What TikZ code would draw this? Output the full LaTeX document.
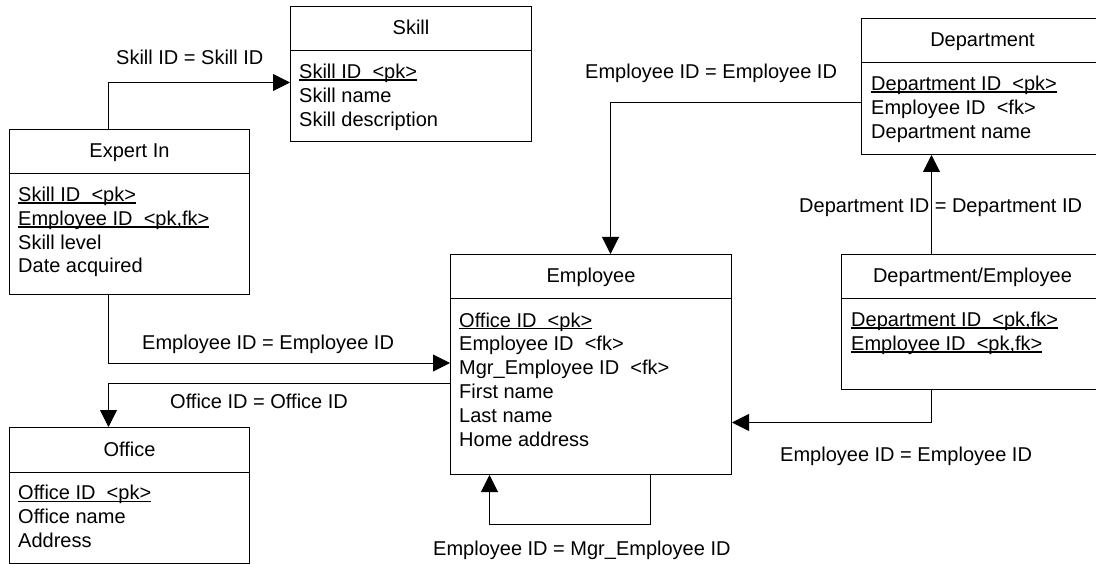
\documentclass[tikz,border=0pt]{standalone}
\usepackage{fontspec}
\setmainfont{Liberation Sans}
\usetikzlibrary{arrows.meta}
% underlined key field: rule just below the baseline, across the whole text
\newcommand\keyfield[1]{\setbox0\hbox{#1}\rlap{\vrule height -1pt depth 2.4pt width \wd0}\box0}
\begin{document}
\begin{tikzpicture}[x=1pt,y=-1pt,
  every node/.style={font=\fontsize{20}{24}\selectfont, inner sep=0pt},
  entity/.style={draw, line width=1pt, anchor=north west},
  heading/.style={anchor=base},
  attr/.style={anchor=base west},
  rel/.style={anchor=base west},
  link/.style={draw, line width=1pt, -{Triangle[length=17pt,width=17pt]}},
  divider/.style={line width=1pt}]
\clip (0,0) rectangle (1096,564);

% ---------- entities ----------
% Skill
\node[entity, minimum width=241pt, minimum height=135pt] (skill) at (290,6) {};
\draw[divider] ([yshift=-45pt]skill.north west) -- ([yshift=-45pt]skill.north east);
\node[heading] (skill-t) at ([yshift=-29pt]skill.north) {Skill};
\node[attr] (skill-1) at ([xshift=9pt,yshift=-72.5pt]skill.north west) {\keyfield{Skill ID\ \ <pk>}};
\node[attr] (skill-2) at ([yshift=-23.8pt]skill-1.base west) {Skill name};
\node[attr] (skill-3) at ([yshift=-23.8pt]skill-2.base west) {Skill description};

% Expert In
\node[entity, minimum width=240pt, minimum height=165pt] (expert) at (9,129) {};
\draw[divider] ([yshift=-45pt]expert.north west) -- ([yshift=-45pt]expert.north east);
\node[heading] (expert-t) at ([yshift=-29pt]expert.north) {Expert In};
\node[attr] (expert-1) at ([xshift=9pt,yshift=-72.5pt]expert.north west) {\keyfield{Skill ID\ \ <pk>}};
\node[attr] (expert-2) at ([yshift=-23.8pt]expert-1.base west) {\keyfield{Employee ID\ \ <pk,fk>}};
\node[attr] (expert-3) at ([yshift=-23.8pt]expert-2.base west) {Skill level};
\node[attr] (expert-4) at ([yshift=-23.8pt]expert-3.base west) {Date acquired};

% Employee
\node[entity, minimum width=281pt, minimum height=220pt] (emp) at (450,254) {};
\draw[divider] ([yshift=-45pt]emp.north west) -- ([yshift=-45pt]emp.north east);
\node[heading] (emp-t) at ([yshift=-29pt]emp.north) {Employee};
\node[attr] (emp-1) at ([xshift=9pt,yshift=-73pt]emp.north west) {\keyfield{Office ID\ \ <pk>}};
\node[attr] (emp-2) at ([yshift=-23.9pt]emp-1.base west) {Employee ID\ \ <fk>};
\node[attr] (emp-3) at ([yshift=-23.9pt]emp-2.base west) {Mgr\_Employee ID\ \ <fk>};
\node[attr] (emp-4) at ([yshift=-23.9pt]emp-3.base west) {First name};
\node[attr] (emp-5) at ([yshift=-23.9pt]emp-4.base west) {Last name};
\node[attr] (emp-6) at ([yshift=-23.9pt]emp-5.base west) {Home address};

% Department
\node[entity, minimum width=242pt, minimum height=136pt] (dept) at (861,18) {};
\draw[divider] ([yshift=-45pt]dept.north west) -- ([yshift=-45pt]dept.north east);
\node[heading] (dept-t) at ([yshift=-29pt]dept.north) {Department};
\node[attr] (dept-1) at ([xshift=10pt,yshift=-72.5pt]dept.north west) {\keyfield{Department ID\ \ <pk>}};
\node[attr] (dept-2) at ([yshift=-23.8pt]dept-1.base west) {Employee ID\ \ <fk>};
\node[attr] (dept-3) at ([yshift=-23.8pt]dept-2.base west) {Department name};

% Department/Employee
\node[entity, minimum width=262pt, minimum height=135pt] (de) at (841,254) {};
\draw[divider] ([yshift=-45pt]de.north west) -- ([yshift=-45pt]de.north east);
\node[heading] (de-t) at ([yshift=-29pt]de.north) {Department/Employee};
\node[attr] (de-1) at ([xshift=10pt,yshift=-72.5pt]de.north west) {\keyfield{Department ID\ \ <pk,fk>}};
\node[attr] (de-2) at ([yshift=-23.8pt]de-1.base west) {\keyfield{Employee ID\ \ <pk,fk>}};

% Office
\node[entity, minimum width=240pt, minimum height=136pt] (office) at (9,427) {};
\draw[divider] ([yshift=-45pt]office.north west) -- ([yshift=-45pt]office.north east);
\node[heading] (office-t) at ([yshift=-29pt]office.north) {Office};
\node[attr] (office-1) at ([xshift=9pt,yshift=-72.5pt]office.north west) {\keyfield{Office ID\ \ <pk>}};
\node[attr] (office-2) at ([yshift=-23.8pt]office-1.base west) {Office name};
\node[attr] (office-3) at ([yshift=-23.8pt]office-2.base west) {Address};

% ---------- relationships ----------
\draw[link] ([xshift=-21pt]expert.north) |- ([yshift=-8.5pt]skill.west);
\draw[link] ([xshift=-21pt]expert.south) |- ([yshift=1.5pt]emp.west);
\draw[link] ([yshift=-19pt]emp.west) -| ([xshift=-21pt]office.north);
\draw[link] ([yshift=-16pt]dept.west) -| ([xshift=19.5pt]emp.north);
\draw[link] ([xshift=-41pt]de.north) -- ([xshift=-51pt]dept.south);
\draw[link] ([xshift=-41pt]de.south) |- ([yshift=-58pt]emp.east);
\draw[link] ([xshift=59.5pt]emp.south) -- ++(0,49) -| ([xshift=-101.5pt]emp.south);

% ---------- join labels ----------
\node[rel] (l-skill) at (116,65) {Skill ID = Skill ID};
\node[rel] (l-dept) at (585,79) {Employee ID = Employee ID};
\node[rel] (l-de) at (799,213) {Department ID = Department ID};
\node[rel] (l-expert) at (142,349.5) {Employee ID = Employee ID};
\node[rel] (l-office) at (170,408) {Office ID = Office ID};
\node[rel] (l-deemp) at (780,461.5) {Employee ID = Employee ID};
\node[rel] (l-mgr) at (433,555) {Employee ID = Mgr\_Employee ID};
\end{tikzpicture}
\end{document}
